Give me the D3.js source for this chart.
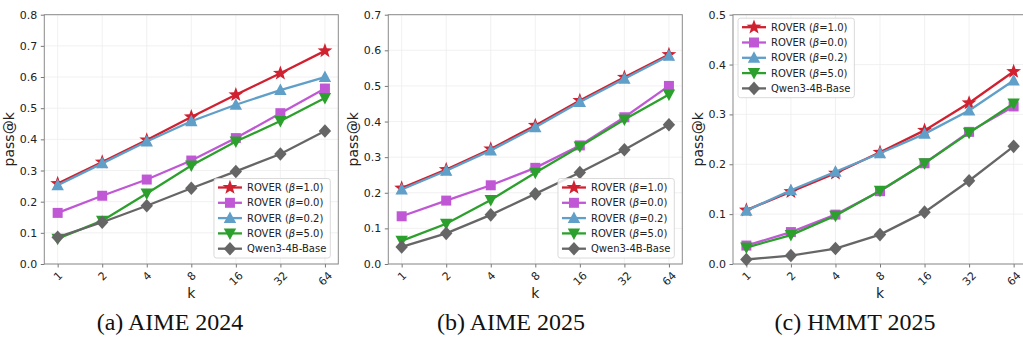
<!DOCTYPE html>
<html lang="en">
<head>
<meta charset="UTF-8">
<script src="https://d3js.org/d3.v7.min.js"></script>
<title>pass@k</title>
<style>
body { margin: 0; background: #fff; }
svg { display: block; }
.tick text { font: 11px "DejaVu Sans", sans-serif; fill: #222; }
.axlabel { font: 14px "DejaVu Sans", sans-serif; fill: #222; }
.legend text { font: 10px "DejaVu Sans", sans-serif; fill: #222; }
.caption { font: 24px "Liberation Serif", "Times New Roman", serif; fill: #111; }
</style>
</head>
<body>
<script>

// x categories
var ks = ["1", "2", "4", "8", "16", "32", "64"];

// series names (beta value shown in legend)
var betas = ["1.0", "0.0", "0.2", "5.0"];
var baseName = "Qwen3-4B-Base";

// (a) AIME 2024
var aime24Beta10 = [0.258, 0.327, 0.398, 0.472, 0.543, 0.612, 0.684];
var aime24Beta00 = [0.164, 0.219, 0.271, 0.332, 0.404, 0.484, 0.563];
var aime24Beta02 = [0.253, 0.323, 0.393, 0.458, 0.511, 0.558, 0.600];
var aime24Beta50 = [0.081, 0.139, 0.226, 0.316, 0.393, 0.459, 0.533];
var aime24Base   = [0.086, 0.134, 0.187, 0.243, 0.297, 0.353, 0.427];

// (b) AIME 2025
var aime25Beta10 = [0.213, 0.265, 0.323, 0.389, 0.459, 0.524, 0.588];
var aime25Beta00 = [0.134, 0.178, 0.221, 0.270, 0.333, 0.412, 0.500];
var aime25Beta02 = [0.209, 0.262, 0.319, 0.384, 0.455, 0.520, 0.585];
var aime25Beta50 = [0.065, 0.113, 0.180, 0.256, 0.330, 0.406, 0.476];
var aime25Base   = [0.048, 0.086, 0.138, 0.197, 0.257, 0.321, 0.391];

// (c) HMMT 2025
var hmmtBeta10 = [0.108, 0.145, 0.182, 0.224, 0.268, 0.323, 0.386];
var hmmtBeta00 = [0.037, 0.064, 0.099, 0.146, 0.202, 0.265, 0.316];
var hmmtBeta02 = [0.107, 0.148, 0.185, 0.222, 0.261, 0.308, 0.368];
var hmmtBeta50 = [0.033, 0.058, 0.097, 0.147, 0.202, 0.263, 0.322];
var hmmtBase   = [0.009, 0.017, 0.031, 0.059, 0.104, 0.167, 0.236];

var captions = ["(a) AIME 2024", "(b) AIME 2025", "(c) HMMT 2025"];
var yMax = [0.8, 0.7, 0.5];

var panels = [
  [aime24Beta10, aime24Beta00, aime24Beta02, aime24Beta50, aime24Base],
  [aime25Beta10, aime25Beta00, aime25Beta02, aime25Beta50, aime25Base],
  [hmmtBeta10, hmmtBeta00, hmmtBeta02, hmmtBeta50, hmmtBase]
];

var colors = ["#d1202f", "#c058d6", "#5f9fc8", "#2ca02c", "#666666"];
var markers = ["star", "square", "triUp", "triDown", "diamond"];

var width = 1023, height = 343;
var panelLeft = [44.3, 388.3, 733], pw = 294;
var yTop = 14.7, yBottom = 264;
var captionX = [170, 511, 855];

var svg = d3.select("body").append("svg")
    .attr("width", width)
    .attr("height", height);

function markerPath(type) {
  var p = d3.path();
  if (type == "star") {
    var R = 7.8, r = 3.2;
    for (var i = 0; i < 10; i++) {
      var a = -Math.PI / 2 + i * Math.PI / 5, rr = i % 2 ? r : R;
      if (i == 0) p.moveTo(rr * Math.cos(a), rr * Math.sin(a));
      else p.lineTo(rr * Math.cos(a), rr * Math.sin(a));
    }
  } else if (type == "square") {
    p.rect(-5, -5, 10, 10);
  } else if (type == "triUp") {
    p.moveTo(0, -6.5); p.lineTo(6.2, 5); p.lineTo(-6.2, 5);
  } else if (type == "triDown") {
    p.moveTo(0, 6.5); p.lineTo(6.2, -5); p.lineTo(-6.2, -5);
  } else {
    p.moveTo(0, -6.8); p.lineTo(6.2, 0); p.lineTo(0, 6.8); p.lineTo(-6.2, 0);
  }
  p.closePath();
  return p.toString();
}

function legendLabel(t, i) {
  if (i < 4) {
    t.append("tspan").text("ROVER (");
    t.append("tspan").style("font-style", "italic").text("β");
    t.append("tspan").text("=" + betas[i] + ")");
  } else {
    t.text(baseName);
  }
}

panels.forEach(function(series, pi) {
  var x0 = panelLeft[pi];
  var g = svg.append("g");

  var x = d3.scalePoint().domain(ks).range([x0, x0 + pw]).padding(0.3);
  var y = d3.scaleLinear().domain([0, yMax[pi]]).range([yBottom, yTop]);
  var yTicks = d3.range(0, yMax[pi] + 1e-9, 0.1);

  // grid
  g.append("g").selectAll("line").data(yTicks).join("line")
      .attr("x1", x0).attr("x2", x0 + pw)
      .attr("y1", function(d) { return y(d); }).attr("y2", function(d) { return y(d); })
      .attr("stroke", "#ededed").attr("stroke-width", 0.8);
  g.append("g").selectAll("line").data(ks).join("line")
      .attr("x1", function(d) { return x(d); }).attr("x2", function(d) { return x(d); })
      .attr("y1", yTop).attr("y2", yBottom)
      .attr("stroke", "#ededed").attr("stroke-width", 0.8);

  // axes
  g.append("g")
      .attr("transform", "translate(" + x0 + ",0)")
      .call(d3.axisLeft(y).tickValues(yTicks).tickFormat(d3.format(".1f")).tickSizeOuter(0).tickSize(3.5).tickPadding(3.5));
  var xAxis = g.append("g")
      .attr("transform", "translate(0," + yBottom + ")")
      .call(d3.axisBottom(x).tickSizeOuter(0).tickSize(3.5));
  g.selectAll(".domain").remove();
  g.selectAll(".tick line").attr("stroke", "#777");

  xAxis.selectAll(".tick text").each(function(d) {
    var t = d3.select(this);
    t.attr("text-anchor", "middle").attr("dy", null).attr("y", null).attr("dominant-baseline", "central");
    var w = this.getComputedTextLength();
    var h = (w + 8) * Math.SQRT1_2;
    t.attr("transform", "translate(0," + (7 + h / 2) + ") rotate(-45)");
  });

  // frame
  g.append("rect")
      .attr("x", x0).attr("y", yTop).attr("width", pw).attr("height", yBottom - yTop)
      .attr("fill", "none").attr("stroke", "#8a8a8a").attr("stroke-width", 1);

  // lines + markers
  var line = d3.line()
      .x(function(d, i) { return x(ks[i]); })
      .y(function(d) { return y(d); });

  series.forEach(function(vals, si) {
    g.append("path")
        .attr("d", line(vals))
        .attr("fill", "none")
        .attr("stroke", colors[si])
        .attr("stroke-width", 2.3);
    g.append("g").selectAll("path").data(vals).join("path")
        .attr("d", markerPath(markers[si]))
        .attr("transform", function(d, i) { return "translate(" + x(ks[i]) + "," + y(d) + ")"; })
        .attr("fill", colors[si]);
  });

  // axis labels
  g.append("text").attr("class", "axlabel")
      .attr("x", x0 + pw / 2).attr("y", 298)
      .attr("text-anchor", "middle").text("k");
  g.append("text").attr("class", "axlabel")
      .attr("transform", "translate(" + (x0 - 30) + "," + ((yTop + yBottom) / 2) + ") rotate(-90)")
      .attr("text-anchor", "middle").text("pass@k");

  // legend
  var leg = g.append("g").attr("class", "legend");
  var rowH = 15.3, handle = 24, texts = [];
  var box = leg.append("rect");
  series.forEach(function(vals, si) {
    var row = leg.append("g").attr("transform", "translate(0," + (9 + si * rowH) + ")");
    row.append("line").attr("x1", 4).attr("x2", 4 + handle)
        .attr("stroke", colors[si]).attr("stroke-width", 2.3);
    row.append("path").attr("d", markerPath(markers[si]))
        .attr("transform", "translate(" + (4 + handle / 2) + ",0)")
        .attr("fill", colors[si]);
    var t = row.append("text").attr("x", 4 + handle + 5).attr("dy", "0.35em");
    legendLabel(t, si);
    texts.push(t.node().getComputedTextLength());
  });
  var bw = 4 + handle + 5 + d3.max(texts) + 4, bh = 5 * rowH + 3;
  box.attr("width", bw).attr("height", bh).attr("rx", 2.5)
      .attr("fill", "#fff").attr("fill-opacity", 0.85)
      .attr("stroke", "#d0d0d0").attr("stroke-width", 0.8);
  var lx, ly;
  if (pi < 2) { lx = x0 + pw - 8 - bw; ly = yBottom - 6 - bh; }
  else { lx = x0 + 5; ly = yTop + 3.5; }
  leg.attr("transform", "translate(" + lx + "," + ly + ")");

  // caption
  svg.append("text").attr("class", "caption")
      .attr("x", captionX[pi]).attr("y", 330)
      .attr("text-anchor", "middle").text(captions[pi]);
});

</script>
</body>
</html>
